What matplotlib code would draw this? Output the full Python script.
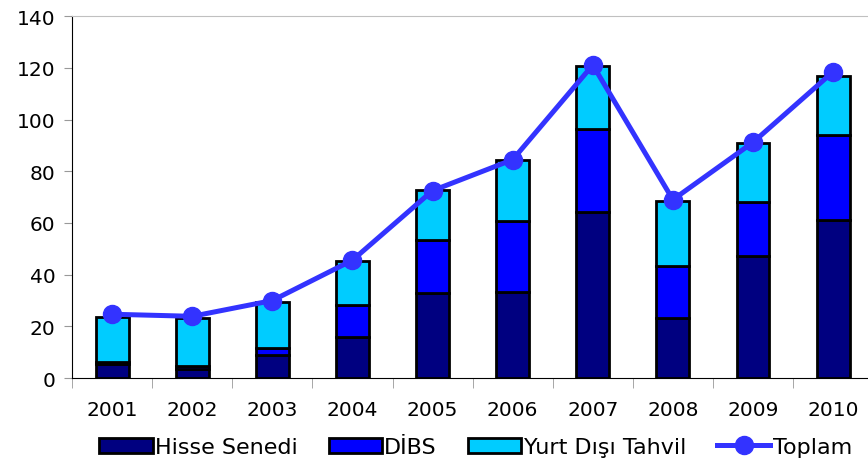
import matplotlib.pyplot as plt
import numpy as np

years = ['2001', '2002', '2003', '2004', '2005', '2006', '2007', '2008', '2009', '2010']
hisse = [5.3, 3.5, 8.9, 16.0, 33.1, 33.4, 64.1, 23.1, 47.2, 61.2]
dibs = [1.0, 1.0, 2.8, 12.4, 20.5, 27.3, 32.2, 20.3, 21.0, 33.0]
yurt = [17.4, 18.7, 17.8, 16.7, 19.0, 23.5, 24.5, 25.2, 22.8, 22.7]
toplam = [24.7, 23.9, 30.0, 45.6, 72.5, 84.5, 121.1, 69.0, 91.2, 118.5]

plt.rcParams['font.family'] = ['DejaVu Sans']

fig = plt.figure(figsize=(8.68, 4.64), dpi=100)
ax = fig.add_axes([0.083, 0.183, 0.923, 0.78])

x = np.arange(len(years))
w = 0.41
b1 = np.array(hisse)
b2 = b1 + np.array(dibs)
h1 = ax.bar(x, hisse, w, color='#000080', edgecolor='black', linewidth=2, zorder=2)
h2 = ax.bar(x, dibs, w, bottom=b1, color='#0000FF', edgecolor='black', linewidth=2, zorder=2)
h3 = ax.bar(x, yurt, w, bottom=b2, color='#00CCFF', edgecolor='black', linewidth=2, zorder=2)
h4, = ax.plot(x, toplam, color='#3333FF', linewidth=3.6, marker='o', markersize=13, zorder=3)

ax.set_xlim(-0.5, len(years) - 0.5)
ax.set_ylim(0, 140)
ax.set_yticks(range(0, 141, 20))
ax.tick_params(axis='y', labelsize=14.5, length=6, color='#999999', direction='out', pad=6)
ax.set_xticks(x)
ax.set_xticklabels(years, fontsize=14.5)
ax.tick_params(axis='x', length=0, pad=16)
ax.set_xticks(np.arange(-0.5, len(years), 1), minor=True)
ax.tick_params(axis='x', which='minor', length=7, color='#999999')

ax.spines['right'].set_visible(False)
ax.spines['top'].set_color('#C0C0C0')
ax.spines['left'].set_color('black')
ax.spines['bottom'].set_color('black')

fig.legend([h1, h2, h3, h4], ['Hisse Senedi', 'DİBS', 'Yurt Dışı Tahvil', 'Toplam'],
           loc='center', bbox_to_anchor=(0.548, 0.034), ncol=4, frameon=False,
           fontsize=16, handlelength=2.4, handletextpad=0.1, columnspacing=1.4,
           borderpad=0, borderaxespad=0)

fig.savefig('out.png', dpi=100)
